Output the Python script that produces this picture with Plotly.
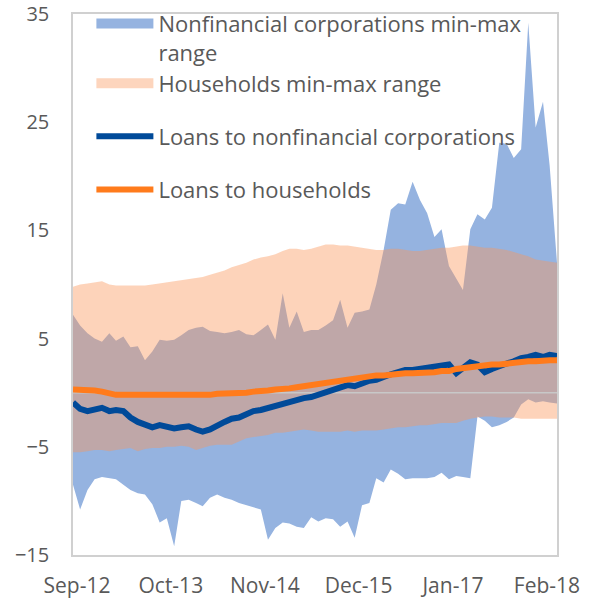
import pandas as pd
import plotly.graph_objects as go

dates = pd.date_range("2012-09-01", "2018-04-01", freq="MS")

nfc_loans = [-0.9, -1.5, -1.7, -1.6, -1.4, -1.7, -1.6, -1.7, -2.3, -2.7,
             -3.0, -3.2, -3.0, -3.1, -3.3, -3.2, -3.1, -3.4, -3.6, -3.4,
             -3.0, -2.7, -2.4, -2.3, -2.0, -1.7, -1.6, -1.4, -1.2, -1.0,
             -0.8, -0.7, -0.5, -0.4, -0.2, 0.1, 0.3, 0.5, 0.7, 0.6,
             0.9, 1.1, 1.2, 1.5, 1.7, 1.9, 2.1, 2.1, 2.2, 2.3,
             2.3, 2.5, 2.6, 1.8, 2.3, 2.8, 2.6, 1.9, 2.2, 2.5,
             2.7, 2.9, 3.2, 3.3, 3.5, 3.3, 3.5, 3.4]

hh_loans = [0.3, 0.3, 0.3, 0.2, 0.1, -0.1, -0.2, -0.2, -0.2, -0.2,
            -0.2, -0.2, -0.2, -0.3, -0.2, -0.2, -0.2, -0.2, -0.2, -0.2,
            -0.1, -0.1, 0.0, 0.0, 0.0, 0.1, 0.1, 0.2, 0.3, 0.3,
            0.4, 0.5, 0.6, 0.7, 0.8, 0.9, 1.0, 1.1, 1.3, 1.4,
            1.4, 1.5, 1.6, 1.6, 1.7, 1.8, 1.8, 1.8, 1.8, 1.9,
            1.9, 2.0, 2.0, 2.2, 2.3, 2.4, 2.5, 2.5, 2.6, 2.6,
            2.7, 2.8, 2.8, 2.9, 2.9, 3.0, 3.0, 3.0]

nfc_max = [7.2, 6.2, 5.5, 5.0, 4.7, 5.5, 4.8, 5.2, 4.2, 4.3,
           3.0, 3.8, 4.9, 4.8, 4.9, 5.3, 5.8, 6.0, 6.1, 5.7,
           5.6, 5.5, 5.6, 5.8, 5.4, 5.3, 5.8, 6.3, 4.9, 9.2,
           6.0, 7.5, 5.6, 5.8, 5.8, 6.2, 6.7, 8.6, 6.0, 7.4,
           7.5, 7.7, 10.0, 13.2, 16.9, 17.5, 17.4, 19.5, 17.8, 16.6,
           14.4, 15.1, 11.7, 10.5, 9.5, 15.1, 16.5, 16.0, 17.1, 23.1,
           23.0, 21.7, 22.5, 34.2, 24.5, 26.9, 21.0, 12.0]

nfc_min = [-8.5, -10.8, -9.0, -8.0, -7.8, -7.9, -8.0, -8.5, -9.0, -9.3,
           -9.4, -10.3, -12.0, -11.6, -14.2, -10.0, -9.9, -10.2, -10.5, -9.7,
           -9.4, -9.7, -9.9, -10.2, -10.4, -10.6, -10.8, -13.6, -12.5, -12.0,
           -12.1, -12.4, -12.5, -11.5, -11.9, -11.6, -11.7, -12.4, -11.9, -13.4,
           -10.4, -10.2, -7.9, -8.3, -7.1, -7.5, -8.0, -7.9, -7.9, -7.9,
           -7.8, -7.4, -8.0, -7.7, -7.8, -7.9, -2.2, -2.6, -3.2, -3.0,
           -2.7, -2.3, -1.1, -0.6, -0.9, -0.8, -0.9, -1.0]

hh_max = [9.8, 10.0, 10.1, 10.2, 10.3, 10.0, 9.9, 9.9, 9.9, 9.9,
          9.9, 10.0, 10.1, 10.2, 10.3, 10.4, 10.5, 10.6, 10.7, 10.9,
          11.1, 11.3, 11.6, 11.8, 12.0, 12.3, 12.5, 12.6, 12.8, 13.1,
          13.3, 13.3, 13.2, 13.3, 13.5, 13.7, 13.7, 13.6, 13.6, 13.5,
          13.4, 13.3, 13.2, 13.2, 13.3, 13.3, 13.2, 13.1, 13.1, 13.2,
          13.3, 13.4, 13.4, 13.5, 13.6, 13.6, 13.5, 13.4, 13.4, 13.3,
          13.2, 13.0, 12.8, 12.6, 12.3, 12.2, 12.1, 12.0]

hh_min = [-5.5, -5.5, -5.4, -5.3, -5.3, -5.4, -5.3, -5.2, -5.1, -5.4,
          -5.2, -5.1, -5.1, -5.0, -5.0, -4.9, -5.0, -5.3, -5.1, -4.9,
          -4.8, -4.8, -4.8, -4.5, -4.2, -4.1, -4.0, -3.9, -3.7, -3.7,
          -3.6, -3.5, -3.4, -3.5, -3.6, -3.6, -3.6, -3.6, -3.5, -3.6,
          -3.5, -3.5, -3.5, -3.4, -3.3, -3.2, -3.2, -3.1, -3.0, -3.0,
          -2.9, -2.8, -2.8, -2.8, -2.6, -2.4, -2.3, -2.2, -2.2, -2.3,
          -2.3, -2.3, -2.4, -2.4, -2.4, -2.4, -2.4, -2.4]

tick_dates = ["2012-09-01", "2013-10-01", "2014-11-01", "2015-12-01", "2017-01-01", "2018-02-01"]
tick_labels = ["Sep-12", "Oct-13", "Nov-14", "Dec-15", "Jan-17", "Feb-18"]
y_ticks = [-15, -5, 5, 15, 25, 35]

BLUE_FILL = "#95B3E0"
PEACH_FILL = "rgba(251,150,90,0.42)"
PEACH_SWATCH = "#FDD5BD"
NFC_COLOR = "#004A99"
HH_COLOR = "#FF7B1C"
GRAY = "#595959"
FONT = "Open Sans"

fig = go.Figure()
# plotted ranges (legend entries supplied by swatch traces below)
fig.add_trace(go.Scatter(x=dates, y=nfc_min, mode="lines", line=dict(width=0),
                         showlegend=False, hoverinfo="skip"))
fig.add_trace(go.Scatter(x=dates, y=nfc_max, mode="lines", line=dict(width=0),
                         fill="tonexty", fillcolor=BLUE_FILL,
                         showlegend=False, legendgroup="a"))
fig.add_trace(go.Scatter(x=dates, y=hh_min, mode="lines", line=dict(width=0),
                         showlegend=False, hoverinfo="skip"))
fig.add_trace(go.Scatter(x=dates, y=hh_max, mode="lines", line=dict(width=0),
                         fill="tonexty", fillcolor=PEACH_FILL,
                         showlegend=False, legendgroup="b"))
fig.add_trace(go.Scatter(x=[dates[0], dates[-1]], y=[0, 0], mode="lines",
                         line=dict(color="#C8C8C8", width=1.5),
                         showlegend=False, hoverinfo="skip"))
fig.add_trace(go.Scatter(x=dates, y=nfc_loans, mode="lines",
                         line=dict(color=NFC_COLOR, width=6),
                         name="Loans to nonfinancial corporations",
                         legend="legend2", legendgroup="c"))
fig.add_trace(go.Scatter(x=dates, y=hh_loans, mode="lines",
                         line=dict(color=HH_COLOR, width=6),
                         name="Loans to households",
                         legend="legend2", legendgroup="d"))

# legend swatches for the range areas (legend-only, no data)
fig.add_trace(go.Scatter(x=[None], y=[None], mode="lines",
                         line=dict(color=BLUE_FILL, width=13),
                         name="Nonfinancial corporations min-max<br>range",
                         legend="legend", legendgroup="a", legendrank=1))
fig.add_trace(go.Scatter(x=[None], y=[None], mode="lines",
                         line=dict(color=PEACH_SWATCH, width=13),
                         name="Households min-max range",
                         legend="legend2", legendgroup="b", legendrank=2))

legend_common = dict(xanchor="left", yanchor="top", bgcolor="rgba(0,0,0,0)",
                     font=dict(size=22, color=GRAY, family=FONT),
                     itemwidth=57, valign="top", traceorder="grouped")

fig.update_layout(
    width=592, height=599,
    margin=dict(l=73, r=35, t=14, b=44, autoexpand=False),
    paper_bgcolor="white", plot_bgcolor="white",
    font=dict(family=FONT, size=20, color=GRAY),
    showlegend=True,
    legend=dict(x=0.038, y=1.021, **legend_common),
    legend2=dict(x=0.038, y=0.9105, tracegroupgap=21.5, **legend_common),
    xaxis=dict(range=[dates[0], dates[-1]], tickmode="array",
               tickvals=tick_dates, ticktext=tick_labels, ticks="",
               showgrid=False, zeroline=False, showline=True,
               linecolor="#D0D0D0", linewidth=1.5, mirror=True,
               automargin=False, ticklabelshift=4,
               ticklabelstandoff=11, tickfont=dict(size=21, color=GRAY)),
    xaxis2=dict(overlaying="x", matches="x", anchor="free", position=0.3,
                tickmode="array", tickvals=tick_dates, ticks="outside",
                ticklen=7, tickwidth=1.5, tickcolor="#C8C8C8",
                showticklabels=False, showline=False, showgrid=False,
                zeroline=False, layer="above traces", automargin=False),
    yaxis=dict(range=[-15, 35], tickmode="array", tickvals=y_ticks,
               ticks="", showgrid=False, zeroline=False, showline=True,
               linecolor="#D0D0D0", linewidth=1.5, mirror=True,
               automargin=False,
               ticklabelstandoff=18, tickfont=dict(size=20, color=GRAY)),
)

fig.write_html("out.html", config={"displayModeBar": False},
               post_script="document.body.style.margin='0';")
